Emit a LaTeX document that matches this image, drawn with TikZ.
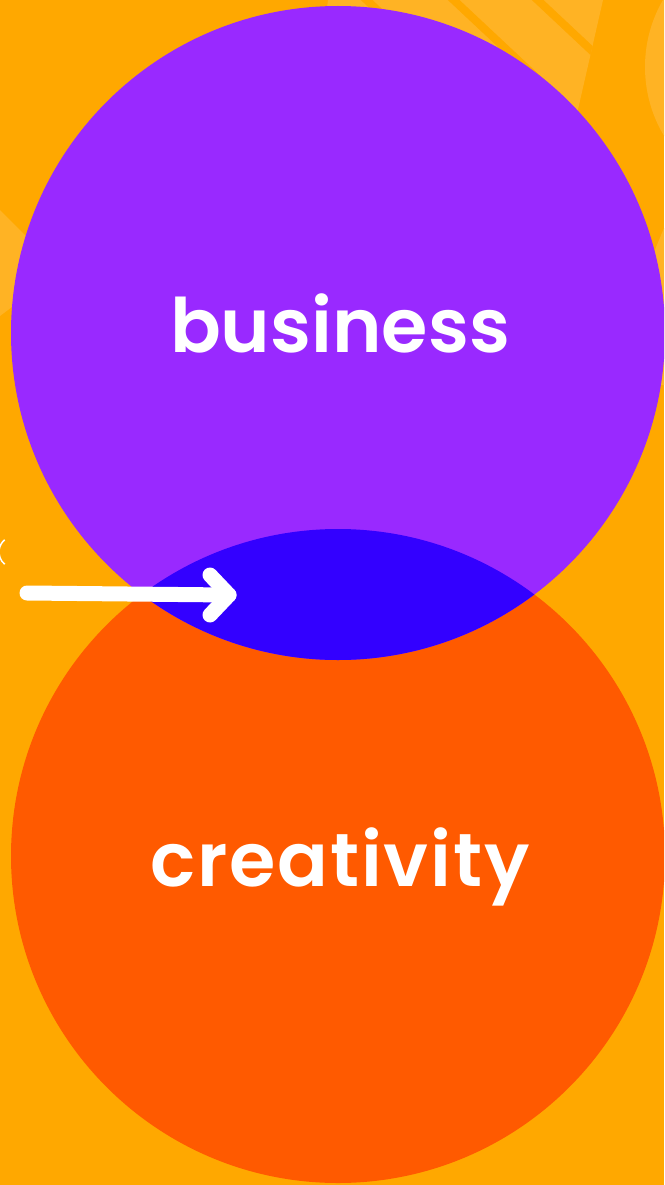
\documentclass[tikz,border=0pt]{standalone}
\usepackage{fontspec}
\setmainfont{Poppins}[BoldFont={Poppins SemiBold}]
\usetikzlibrary{positioning}

\definecolor{backorange}{HTML}{FFA800}
\definecolor{paleorange}{HTML}{FFB324}
\definecolor{bizpurple}{HTML}{9929FF}
\definecolor{artorange}{HTML}{FF5A00}
\definecolor{lensblue}{HTML}{3300FF}

\tikzset{
  venn/.style={circle, minimum size=654pt, inner sep=0pt},
  word/.style={text=white, anchor=base, font=\fontsize{75}{78}\selectfont\bfseries},
  spaced/.style={word, font=\fontsize{75}{78}\selectfont\bfseries\addfontfeatures{LetterSpace=2.5}},
  pointer/.style={white, line width=15pt, line cap=round, line join=round}
}

\begin{document}
\begin{tikzpicture}[x=1pt, y=-1pt]
  \useasboundingbox (0,0) rectangle (664,1185);
  \clip (0,0) rectangle (664,1185);
  \fill[backorange] (0,0) rectangle (664,1185);

  % pale shapes in the background
  \begin{scope}
    \clip (328,0) -- (603,0) -- (555,210) -- (300,210) -- cycle;
    \fill[paleorange] (300,0) rectangle (610,210);
    \foreach \x in {356,443,527}
      \draw[backorange, line width=8pt] (\x,-10) -- ++(160,150);
  \end{scope}
  \fill[paleorange] (779,67) circle (134);
  \fill[paleorange] (0,210) -- (45,255) -- (45,282) -- (0,316) -- cycle;
  \fill[paleorange] (664,228) -- (650,262) -- (650,385) -- (664,385) -- cycle;
  \draw[white, line width=1.5pt] (15,552) ++(130:16) arc (130:230:16);

  % the two circles and their overlap
  \node[venn, fill=artorange] (creativity) at (338,856) {};
  \node[venn, fill=bizpurple] (business) at (338,333) {};
  \begin{scope}
    \clip (business.center) circle (327);
    \fill[lensblue] (creativity.center) circle (327);
  \end{scope}

  \node[word] (bizword) at (340,352) {business};
  \node[spaced] (artword) at (340,886) {creativity};

  % arrow into the overlap
  \coordinate (tail) at (27,593);
  \coordinate (tip) at (229,595);
  \draw[pointer] (tail) -- (tip);
  \draw[pointer] (tip) ++(-19,-20) -- (tip) -- ++(-19,20);
\end{tikzpicture}
\end{document}
